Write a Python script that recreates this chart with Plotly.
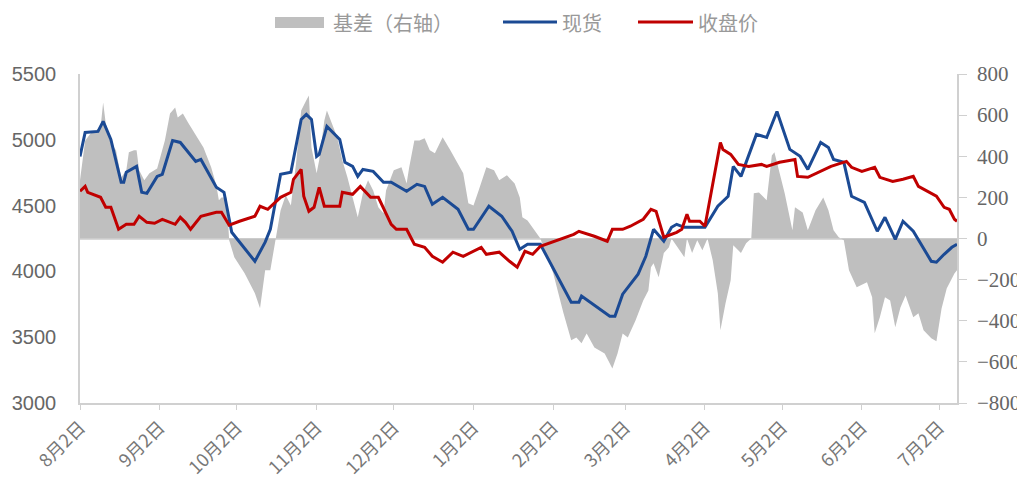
import plotly.graph_objects as go

# ---------------- data ----------------
tick_dates = ["2022-08-02", "2022-09-02", "2022-10-02", "2022-11-02", "2022-12-02", "2023-01-02",
              "2023-02-02", "2023-03-02", "2023-04-02", "2023-05-02", "2023-06-02", "2023-07-02"]
tick_labels = ["8月2日", "9月2日", "10月2日", "11月2日", "12月2日", "1月2日",
               "2月2日", "3月2日", "4月2日", "5月2日", "6月2日", "7月2日"]

spot_dates = ["2022-08-02", "2022-08-04", "2022-08-09", "2022-08-11", "2022-08-14", "2022-08-18", "2022-08-19",
              "2022-08-20", "2022-08-24", "2022-08-26", "2022-08-28", "2022-09-01", "2022-09-03", "2022-09-07",
              "2022-09-10", "2022-09-16", "2022-09-18", "2022-09-24", "2022-09-27", "2022-09-30", "2022-10-09",
              "2022-10-13", "2022-10-15", "2022-10-19", "2022-10-23", "2022-10-27", "2022-10-29", "2022-10-31",
              "2022-11-02", "2022-11-03", "2022-11-06", "2022-11-09", "2022-11-11", "2022-11-13", "2022-11-16",
              "2022-11-18", "2022-11-20", "2022-11-24", "2022-11-28", "2022-12-01", "2022-12-07", "2022-12-11",
              "2022-12-14", "2022-12-17", "2022-12-21", "2022-12-27", "2022-12-31", "2023-01-02", "2023-01-08",
              "2023-01-13", "2023-01-17", "2023-01-20", "2023-01-23", "2023-01-28", "2023-02-09", "2023-02-12",
              "2023-02-13", "2023-02-24", "2023-02-26", "2023-03-01", "2023-03-07", "2023-03-10", "2023-03-13",
              "2023-03-17", "2023-03-20", "2023-03-22", "2023-03-25", "2023-04-02", "2023-04-07", "2023-04-11",
              "2023-04-13", "2023-04-16", "2023-04-19", "2023-04-22", "2023-04-26", "2023-04-30", "2023-05-05",
              "2023-05-09", "2023-05-12", "2023-05-17", "2023-05-20", "2023-05-22", "2023-05-26", "2023-05-29",
              "2023-06-03", "2023-06-08", "2023-06-11", "2023-06-15", "2023-06-18", "2023-06-22", "2023-06-29",
              "2023-07-01", "2023-07-04", "2023-07-07", "2023-07-09"]
spot_values = [4874, 5056, 5064, 5140, 5003, 4677, 4677,
               4753, 4798, 4601, 4593, 4722, 4738, 4995,
               4980, 4836, 4851, 4639, 4601, 4297, 4077,
               4222, 4320, 4738, 4753, 5155, 5193, 5155,
               4874, 4889, 5102, 5041, 5003, 4829, 4798,
               4722, 4775, 4760, 4677, 4677, 4609, 4662,
               4646, 4510, 4563, 4472, 4320, 4320, 4495,
               4419, 4305, 4168, 4206, 4206, 3766, 3766,
               3812, 3660, 3660, 3827, 3979, 4115, 4320,
               4229, 4335, 4358, 4335, 4335, 4495, 4571,
               4798, 4722, 4874, 5041, 5018, 5215, 4927,
               4874, 4775, 4980, 4942, 4851, 4829, 4571,
               4525, 4305, 4411, 4244, 4381, 4305, 4077,
               4070, 4130, 4183, 4206]

close_dates = ["2022-08-02", "2022-08-04", "2022-08-05", "2022-08-10", "2022-08-12", "2022-08-14", "2022-08-17",
               "2022-08-20", "2022-08-23", "2022-08-25", "2022-08-28", "2022-08-31", "2022-09-03", "2022-09-08",
               "2022-09-10", "2022-09-12", "2022-09-14", "2022-09-18", "2022-09-24", "2022-09-26", "2022-09-29",
               "2022-10-03", "2022-10-09", "2022-10-11", "2022-10-14", "2022-10-19", "2022-10-23", "2022-10-24",
               "2022-10-27", "2022-10-28", "2022-10-30", "2022-11-01", "2022-11-03", "2022-11-05", "2022-11-11",
               "2022-11-12", "2022-11-16", "2022-11-19", "2022-11-23", "2022-11-26", "2022-12-01", "2022-12-03",
               "2022-12-07", "2022-12-10", "2022-12-14", "2022-12-17", "2022-12-21", "2022-12-25", "2022-12-29",
               "2023-01-02", "2023-01-05", "2023-01-07", "2023-01-12", "2023-01-16", "2023-01-19", "2023-01-22",
               "2023-01-25", "2023-01-28", "2023-02-10", "2023-02-12", "2023-02-16", "2023-02-18", "2023-02-23",
               "2023-02-25", "2023-03-01", "2023-03-04", "2023-03-09", "2023-03-12", "2023-03-14", "2023-03-17",
               "2023-03-22", "2023-03-24", "2023-03-26", "2023-03-27", "2023-03-31", "2023-04-02", "2023-04-08",
               "2023-04-09", "2023-04-12", "2023-04-15", "2023-04-19", "2023-04-24", "2023-04-26", "2023-05-01",
               "2023-05-07", "2023-05-08", "2023-05-12", "2023-05-17", "2023-05-21", "2023-05-27", "2023-05-29",
               "2023-06-02", "2023-06-07", "2023-06-09", "2023-06-14", "2023-06-18", "2023-06-22", "2023-06-24",
               "2023-06-28", "2023-07-01", "2023-07-04", "2023-07-06", "2023-07-08", "2023-07-09"]
close_values = [4609, 4646, 4601, 4563, 4487, 4487, 4320,
                4358, 4358, 4419, 4373, 4366, 4396, 4358,
                4411, 4373, 4320, 4419, 4449, 4449, 4351,
                4381, 4419, 4495, 4472, 4563, 4601, 4700,
                4775, 4571, 4457, 4487, 4639, 4495, 4495,
                4601, 4586, 4646, 4563, 4563, 4358, 4320,
                4320, 4206, 4183, 4115, 4070, 4146, 4115,
                4153, 4183, 4130, 4146, 4077, 4032, 4153,
                4130, 4191, 4282, 4305, 4282, 4267, 4229,
                4320, 4320, 4343, 4396, 4472, 4457, 4260,
                4297, 4320, 4434, 4381, 4381, 4343, 4980,
                4927, 4889, 4813, 4798, 4813, 4798, 4829,
                4851, 4722, 4715, 4760, 4798, 4836, 4791,
                4760, 4791, 4715, 4684, 4700, 4722, 4646,
                4601, 4571, 4487, 4472, 4396, 4381]

basis_dates = ["2022-08-02", "2022-08-04", "2022-08-06", "2022-08-10", "2022-08-11", "2022-08-12", "2022-08-14",
               "2022-08-16", "2022-08-18", "2022-08-20", "2022-08-21", "2022-08-23", "2022-08-24", "2022-08-25",
               "2022-08-27", "2022-08-29", "2022-09-01", "2022-09-04", "2022-09-06", "2022-09-08", "2022-09-09",
               "2022-09-11", "2022-09-13", "2022-09-16", "2022-09-19", "2022-09-22", "2022-09-24", "2022-09-25",
               "2022-09-26", "2022-09-28", "2022-09-29", "2022-10-01", "2022-10-05", "2022-10-09", "2022-10-11",
               "2022-10-13", "2022-10-15", "2022-10-17", "2022-10-19", "2022-10-21", "2022-10-23", "2022-10-25",
               "2022-10-27", "2022-10-29", "2022-10-30", "2022-10-31", "2022-11-02", "2022-11-03", "2022-11-05",
               "2022-11-06", "2022-11-08", "2022-11-10", "2022-11-12", "2022-11-14", "2022-11-16", "2022-11-18",
               "2022-11-20", "2022-11-22", "2022-11-24", "2022-11-26", "2022-11-28", "2022-11-29", "2022-12-02",
               "2022-12-05", "2022-12-07", "2022-12-08", "2022-12-10", "2022-12-12", "2022-12-14", "2022-12-16",
               "2022-12-18", "2022-12-21", "2022-12-24", "2022-12-27", "2022-12-29", "2022-12-31", "2023-01-02",
               "2023-01-04", "2023-01-07", "2023-01-10", "2023-01-12", "2023-01-15", "2023-01-18", "2023-01-20",
               "2023-01-21", "2023-01-23", "2023-01-25", "2023-01-28", "2023-02-02", "2023-02-06", "2023-02-09",
               "2023-02-11", "2023-02-13", "2023-02-15", "2023-02-18", "2023-02-22", "2023-02-25", "2023-02-27",
               "2023-03-01", "2023-03-03", "2023-03-06", "2023-03-09", "2023-03-11", "2023-03-12", "2023-03-13",
               "2023-03-15", "2023-03-17", "2023-03-19", "2023-03-20", "2023-03-25", "2023-03-26", "2023-03-28",
               "2023-03-30", "2023-04-01", "2023-04-03", "2023-04-05", "2023-04-07", "2023-04-08", "2023-04-10",
               "2023-04-12", "2023-04-13", "2023-04-16", "2023-04-18", "2023-04-20", "2023-04-21", "2023-04-23",
               "2023-04-26", "2023-04-28", "2023-04-29", "2023-05-01", "2023-05-03", "2023-05-06", "2023-05-07",
               "2023-05-10", "2023-05-12", "2023-05-15", "2023-05-18", "2023-05-20", "2023-05-22", "2023-05-24",
               "2023-05-26", "2023-05-28", "2023-05-31", "2023-06-04", "2023-06-06", "2023-06-07", "2023-06-09",
               "2023-06-11", "2023-06-13", "2023-06-15", "2023-06-17", "2023-06-19", "2023-06-22", "2023-06-24",
               "2023-06-26", "2023-06-29", "2023-07-01", "2023-07-03", "2023-07-05", "2023-07-08", "2023-07-09"]
basis_values = [283, 475, 510, 540, 662, 560, 463,
                429, 297, 332, 419, 429, 429, 332,
                283, 317, 341, 477, 608, 637, 589,
                608, 564, 501, 443, 346, 259, 186,
                200, 200, -8, -91, -169, -266, -339,
                -154, -154, -8, 137, 210, 161, 365,
                623, 672, 696, 443, 317, 380, 574,
                623, 560, 492, 380, 297, 200, 103,
                220, 283, 234, 152, 123, 234, 332,
                346, 268, 346, 477, 477, 487, 429,
                414, 492, 429, 365, 317, 171, 161,
                234, 346, 332, 283, 307, 268, 200,
                103, 88, 54, 0, -169, -364, -495,
                -481, -510, -462, -530, -559, -632, -559,
                -462, -481, -399, -302, -253, -140, -120,
                -188, -71, -42, 0, -91, 0, -71,
                -8, -57, 0, -105, -266, -446, -315,
                -203, -33, -71, -23, 0, 220, 224,
                186, 404, 419, 317, 220, 40, 152,
                127, 40, 137, 200, 137, 40, 6,
                -8, -154, -237, -213, -286, -461, -383,
                -286, -301, -432, -335, -277, -383, -364,
                -446, -485, -500, -340, -243, -170, -155]

# ---------------- style ----------------
GREY = "#BFBFBF"
BLUE = "#1B4A94"
RED = "#C00000"
AXIS = "#D0D0D0"
TXT = "#666666"

fig = go.Figure()

# basis area on the right axis (primary y, drawn first = behind)
fig.add_trace(go.Scatter(x=basis_dates, y=basis_values, name="基差（右轴）",
                         mode="lines", line=dict(width=0, color=GREY),
                         fill="tozeroy", fillcolor=GREY, yaxis="y"))
# price lines on the left axis
fig.add_trace(go.Scatter(x=spot_dates, y=spot_values, name="现货", mode="lines",
                         line=dict(color=BLUE, width=3), yaxis="y2"))
fig.add_trace(go.Scatter(x=close_dates, y=close_values, name="收盘价", mode="lines",
                         line=dict(color=RED, width=3), yaxis="y2"))

# page has an 8px body margin; plot area target (page px): x 80..957, y 74..403
W, H = 1025, 486
L, T = 72, 66
R = W - (957 - 8)
B = H - (403 - 8)
PX0, PX1, PY0, PY1 = 80, 957, 74, 403


def px(xp):
    return (xp - PX0) / (PX1 - PX0)


def py(yp):
    return (PY1 - yp) / (PY1 - PY0)


# custom legend
shapes = [
    dict(type="rect", xref="paper", yref="paper", x0=px(275), x1=px(324), y0=py(28), y1=py(17),
         fillcolor=GREY, line=dict(width=0)),
    dict(type="line", xref="paper", yref="paper", x0=px(503), x1=px(557), y0=py(22), y1=py(22),
         line=dict(color=BLUE, width=3)),
    dict(type="line", xref="paper", yref="paper", x0=px(638), x1=px(693), y0=py(22), y1=py(22),
         line=dict(color=RED, width=3)),
]
legend_font = dict(family="Noto Sans CJK SC", size=20, color="#999999")
annotations = [
    dict(text="基差（右轴）", x=px(331), y=py(22), xref="paper", yref="paper", xanchor="left",
         yanchor="middle", showarrow=False, font=legend_font),
    dict(text="现货", x=px(560), y=py(22), xref="paper", yref="paper", xanchor="left",
         yanchor="middle", showarrow=False, font=legend_font),
    dict(text="收盘价", x=px(696), y=py(22), xref="paper", yref="paper", xanchor="left",
         yanchor="middle", showarrow=False, font=legend_font),
]

fig.update_layout(
    width=W, height=H,
    margin=dict(l=L, r=R, t=T, b=B, autoexpand=False),
    paper_bgcolor="white", plot_bgcolor="white",
    showlegend=False,
    shapes=shapes, annotations=annotations,
    xaxis=dict(type="date", range=["2022-08-02", "2023-07-09"],
               tickvals=tick_dates, ticktext=tick_labels, tickangle=-45,
               tickfont=dict(family="Noto Sans CJK SC", size=18, color="#777777"),
               showline=True, linecolor=AXIS, linewidth=1.5,
               ticks="outside", ticklen=5, tickcolor=AXIS, showgrid=False, zeroline=False),
    yaxis=dict(side="right", range=[-800, 800], dtick=200,
               tickfont=dict(family="Liberation Serif", size=21, color=TXT),
               showline=True, linecolor=AXIS, linewidth=1.5,
               ticks="outside", ticklen=8, tickcolor=AXIS, ticklabelstandoff=6,
               showgrid=False, zeroline=True, zerolinecolor="#D9D9D9", zerolinewidth=1.5),
    yaxis2=dict(overlaying="y", side="left", range=[3000, 5500], dtick=500,
                tickfont=dict(family="Liberation Sans", size=20, color=TXT),
                showline=True, linecolor=AXIS, linewidth=1.5,
                ticks="", ticklabelstandoff=18, showgrid=False, zeroline=False),
)

fig.write_html("out.html")
